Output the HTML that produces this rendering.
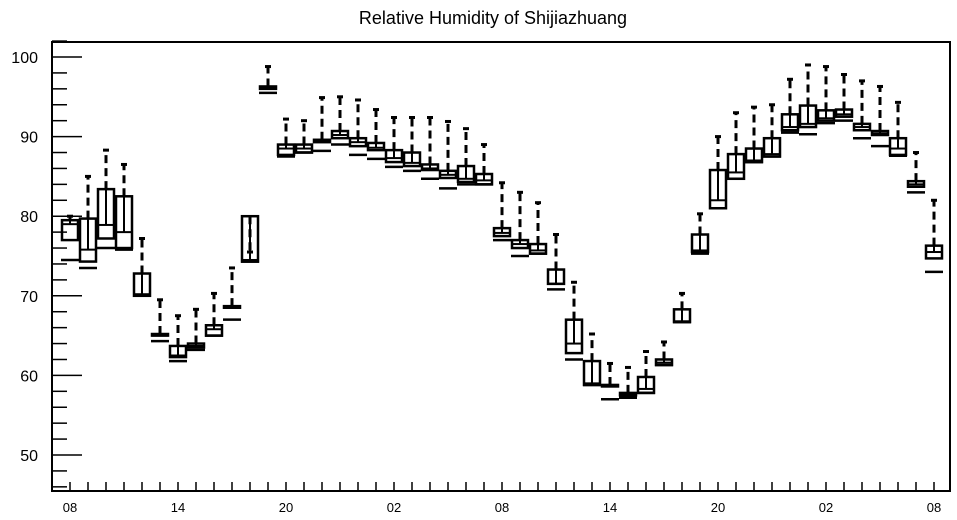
<!DOCTYPE html>
<html><head><meta charset="utf-8"><style>
html,body{margin:0;padding:0;background:#fff;}
svg{display:block;font-family:"Liberation Sans",Arial,sans-serif;}
</style></head><body>
<svg id="chart" width="957" height="520" viewBox="0 0 957 520" xmlns="http://www.w3.org/2000/svg">
<text x="493" y="24" text-anchor="middle" font-size="18">Relative Humidity of Shijiazhuang</text>
<g id="axes"></g>
<g id="marks"></g>
</svg>
<script>
const q1s=[77,74.3,77.2,76,70,65,62.3,63.5,65,68.5,74.3,96,87.7,88,89.3,89.8,88.8,88.3,86.8,86.3,85.8,84.8,84.3,84,77.5,76,75.3,71.5,62.8,58.8,58.7,57.5,57.8,61.3,66.7,75.5,81,84.7,86.8,87.5,90.8,91.2,92,92.5,90.8,90.2,87.7,83.7,74.7];
const q3s=[79.5,79.7,83.4,82.5,72.8,65.2,63.7,64,66.3,68.7,80,96.3,89,89,89.6,90.7,89.8,89.2,88.3,88,86.5,85.7,86.3,85.3,78.5,77,76.5,73.3,67,61.8,58.8,57.8,59.8,62,68.3,77.7,85.8,87.8,88.5,89.8,92.8,93.9,93.3,93.4,91.6,90.7,89.8,84.4,76.3];
const medians=[79,75.8,78.9,78,70.2,65,62.5,63.7,65.8,68.5,74.5,96.1,88.5,88.5,89.4,90.2,89.3,88.6,87.3,86.7,86,85.2,84.7,84.5,77.9,76.5,75.7,71.5,64,59,58.8,57.7,58.3,61.6,66.8,75.7,82,85.5,87,87.8,91.2,91.6,92.3,92.8,91.2,90.4,88.5,84,75.5];
const maxs=[80,85,88.3,86.5,77.2,69.5,67.5,68.3,70.3,73.5,75.5,98.8,92.2,92,94.9,95,94.6,93.4,92.4,92.4,92.4,91.9,91,89,84.2,83,81.7,77.7,71.7,65.2,61.5,61,63,64.2,70.3,80.3,90,93,93.7,94,97.2,99,98.8,97.8,97,96.3,94.3,88,82];
const mins=[74.5,73.5,76,75.8,70,64.3,61.8,63.2,65,67,74.3,95.5,87.5,88,88.2,89,87.7,87.2,86.2,85.7,84.7,83.5,84,84,77,75,75.3,70.8,62,58.8,57,57.2,57.8,61.3,66.7,75.3,81,84.7,86.8,87.5,90.5,90.3,91.7,92,89.8,88.8,87.6,83,73];
const yTicks=[50,60,70,80,90,100];
const xLabels=["08","14","20","02","08","14","20","02","08"];

const NS="http://www.w3.org/2000/svg";
const L=52,R=950,T=42,B=491;
const X=i=>70+i*18;
const Y=v=>455-(v-50)*7.96;
function mk(tag,attrs,parent){const e=document.createElementNS(NS,tag);for(const k in attrs)e.setAttribute(k,attrs[k]);parent.appendChild(e);return e;}
const axes=document.getElementById('axes'),marks=document.getElementById('marks');
const frame=mk('rect',{x:L,y:T,width:R-L,height:B-T,fill:'none',stroke:'#000','stroke-width':2},axes);


for(let v=46;v<=102;v+=2){
  const major=yTicks.includes(v);
  const t=mk('line',{x1:L,x2:L+(major?30:15),y1:Y(v),y2:Y(v),stroke:'#000','stroke-width':1.5},axes);
  
  
}
yTicks.forEach(v=>{
  const t=mk('text',{x:38,y:Y(v)+6,'text-anchor':'end','font-size':16},axes);
  t.textContent=v;
  
  
});
for(let i=0;i<q1s.length;i++){
  const t=mk('line',{x1:X(i),x2:X(i),y1:B,y2:B-9,stroke:'#000','stroke-width':1.5},axes);
  
  
}
xLabels.forEach((s,j)=>{
  const t=mk('text',{x:X(j*6),y:512,'text-anchor':'middle','font-size':13},axes);
  t.textContent=s;
  
  
});
for(let i=0;i<q1s.length;i++){
  const g=mk('g',{},marks);
  
  
  const x=X(i);
  mk('line',{x1:x,x2:x,y1:Y(q3s[i]),y2:Y(maxs[i]),stroke:'#000','stroke-width':3,'stroke-dasharray':'8,5'},g);
  mk('line',{x1:x-3,x2:x+3,y1:Y(maxs[i]),y2:Y(maxs[i]),stroke:'#000','stroke-width':3},g);
  mk('line',{x1:x-9,x2:x+9,y1:Y(mins[i]),y2:Y(mins[i]),stroke:'#000','stroke-width':2.5},g);
  const h=Math.max(Y(q1s[i])-Y(q3s[i]),1.5);
  mk('rect',{x:x-8,y:Y(q3s[i]),width:16,height:h,fill:'none',stroke:'#000','stroke-width':2.5},g);
  mk('line',{x1:x-8,x2:x+8,y1:Y(medians[i]),y2:Y(medians[i]),stroke:'#000','stroke-width':2},g);
  mk('line',{x1:x,x2:x,y1:Y(q3s[i]),y2:Y(medians[i]),stroke:'#000','stroke-width':2},g);
}
</script>
</body></html>
